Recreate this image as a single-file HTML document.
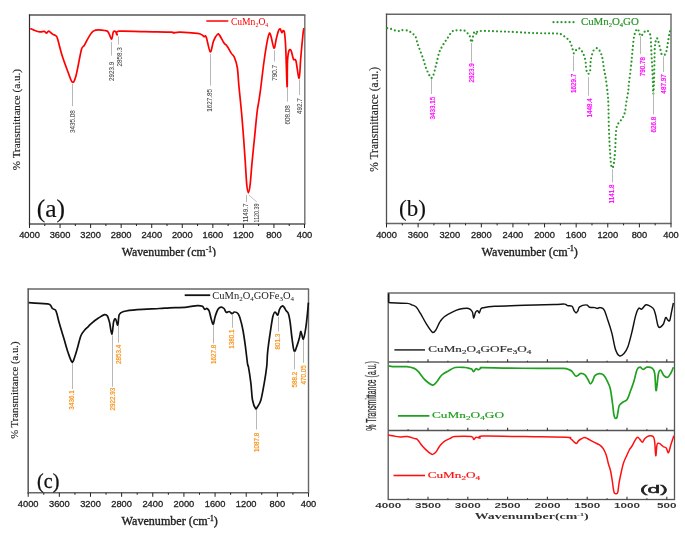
<!DOCTYPE html>
<html><head><meta charset="utf-8"><style>
html,body{margin:0;padding:0;background:#fff;overflow:hidden;width:685px;height:539px;}
svg{display:block;filter:blur(0.4px);}
</style></head><body>
<svg width="685" height="539" viewBox="0 0 685 539">
<rect width="685" height="539" fill="#fff"/>
<line x1="28.9" y1="15.0" x2="305.4" y2="15.0" stroke="#555" stroke-width="1.50"/><line x1="28.9" y1="224.0" x2="305.4" y2="224.0" stroke="#555" stroke-width="1.50"/><line x1="304.8" y1="15.0" x2="304.8" y2="224.0" stroke="#6e6e6e" stroke-width="1.40"/><line x1="29.5" y1="14.4" x2="29.5" y2="224.6" stroke="#303030" stroke-width="1.20"/>
<line x1="29.50" y1="224.0" x2="29.50" y2="228.0" stroke="#222" stroke-width="1"/><line x1="44.78" y1="224.0" x2="44.78" y2="226.0" stroke="#222" stroke-width="1"/><line x1="60.06" y1="224.0" x2="60.06" y2="228.0" stroke="#222" stroke-width="1"/><line x1="75.33" y1="224.0" x2="75.33" y2="226.0" stroke="#222" stroke-width="1"/><line x1="90.61" y1="224.0" x2="90.61" y2="228.0" stroke="#222" stroke-width="1"/><line x1="105.89" y1="224.0" x2="105.89" y2="226.0" stroke="#222" stroke-width="1"/><line x1="121.17" y1="224.0" x2="121.17" y2="228.0" stroke="#222" stroke-width="1"/><line x1="136.44" y1="224.0" x2="136.44" y2="226.0" stroke="#222" stroke-width="1"/><line x1="151.72" y1="224.0" x2="151.72" y2="228.0" stroke="#222" stroke-width="1"/><line x1="167.00" y1="224.0" x2="167.00" y2="226.0" stroke="#222" stroke-width="1"/><line x1="182.28" y1="224.0" x2="182.28" y2="228.0" stroke="#222" stroke-width="1"/><line x1="197.56" y1="224.0" x2="197.56" y2="226.0" stroke="#222" stroke-width="1"/><line x1="212.83" y1="224.0" x2="212.83" y2="228.0" stroke="#222" stroke-width="1"/><line x1="228.11" y1="224.0" x2="228.11" y2="226.0" stroke="#222" stroke-width="1"/><line x1="243.39" y1="224.0" x2="243.39" y2="228.0" stroke="#222" stroke-width="1"/><line x1="258.67" y1="224.0" x2="258.67" y2="226.0" stroke="#222" stroke-width="1"/><line x1="273.94" y1="224.0" x2="273.94" y2="228.0" stroke="#222" stroke-width="1"/><line x1="289.22" y1="224.0" x2="289.22" y2="226.0" stroke="#222" stroke-width="1"/><line x1="304.50" y1="224.0" x2="304.50" y2="228.0" stroke="#222" stroke-width="1"/>
<text x="29.50" y="238.0" font-size="9.3" text-anchor="middle" fill="#222" stroke="#222" stroke-width="0.3" font-family='"Liberation Sans", sans-serif' font-weight="normal">4000</text><text x="60.06" y="238.0" font-size="9.3" text-anchor="middle" fill="#222" stroke="#222" stroke-width="0.3" font-family='"Liberation Sans", sans-serif' font-weight="normal">3600</text><text x="90.61" y="238.0" font-size="9.3" text-anchor="middle" fill="#222" stroke="#222" stroke-width="0.3" font-family='"Liberation Sans", sans-serif' font-weight="normal">3200</text><text x="121.17" y="238.0" font-size="9.3" text-anchor="middle" fill="#222" stroke="#222" stroke-width="0.3" font-family='"Liberation Sans", sans-serif' font-weight="normal">2800</text><text x="151.72" y="238.0" font-size="9.3" text-anchor="middle" fill="#222" stroke="#222" stroke-width="0.3" font-family='"Liberation Sans", sans-serif' font-weight="normal">2400</text><text x="182.28" y="238.0" font-size="9.3" text-anchor="middle" fill="#222" stroke="#222" stroke-width="0.3" font-family='"Liberation Sans", sans-serif' font-weight="normal">2000</text><text x="212.83" y="238.0" font-size="9.3" text-anchor="middle" fill="#222" stroke="#222" stroke-width="0.3" font-family='"Liberation Sans", sans-serif' font-weight="normal">1600</text><text x="243.39" y="238.0" font-size="9.3" text-anchor="middle" fill="#222" stroke="#222" stroke-width="0.3" font-family='"Liberation Sans", sans-serif' font-weight="normal">1200</text><text x="273.94" y="238.0" font-size="9.3" text-anchor="middle" fill="#222" stroke="#222" stroke-width="0.3" font-family='"Liberation Sans", sans-serif' font-weight="normal">800</text><text x="304.50" y="238.0" font-size="9.3" text-anchor="middle" fill="#222" stroke="#222" stroke-width="0.3" font-family='"Liberation Sans", sans-serif' font-weight="normal">400</text>
<path d="M30.2,28.6 C30.8,28.9 32.3,29.6 33.9,30.1 C35.5,30.7 38.1,31.7 39.8,31.9 C41.5,32.1 43.2,31.2 44.3,31.4 C45.4,31.6 45.8,33.1 46.5,33.1 C47.2,33.1 47.7,30.9 48.7,31.1 C49.7,31.3 51.2,33.3 52.5,34.1 C53.8,34.9 55.3,35.1 56.2,36.0 C57.1,36.9 56.7,36.0 57.7,39.3 C58.7,42.6 60.4,50.1 62.1,55.6 C63.8,61.1 66.3,67.5 68.0,72.0 C69.7,76.5 71.1,81.8 72.5,82.3 C73.9,82.8 74.7,80.3 76.2,74.9 C77.7,69.5 80.0,54.7 81.4,49.7 C82.8,44.8 82.4,48.3 84.4,45.2 C86.4,42.1 89.7,33.5 93.3,31.1 C96.9,28.7 103.3,30.3 105.9,30.7 C108.5,31.1 108.0,32.0 108.9,33.4 C109.9,34.8 110.8,39.5 111.6,39.3 C112.3,39.0 112.7,33.2 113.4,31.9 C114.1,30.6 115.0,31.1 115.6,31.6 C116.2,32.1 116.5,34.9 117.1,34.8 C117.7,34.7 114.4,31.7 119.0,31.2 C123.6,30.7 135.8,31.5 144.5,31.6 C153.2,31.8 166.4,31.9 171.2,32.1 C176.0,32.3 171.9,32.9 173.4,32.9 C174.9,32.9 176.0,32.1 180.0,32.2 C184.0,32.3 193.7,33.0 197.3,33.4 C200.9,33.8 200.6,34.3 201.7,34.8 C202.8,35.3 203.2,36.2 203.9,36.6 C204.7,37.0 205.1,34.6 206.2,37.1 C207.3,39.6 209.1,51.3 210.3,51.9 C211.5,52.5 212.4,43.7 213.6,40.8 C214.8,37.9 216.3,35.5 217.3,34.5 C218.3,33.5 218.4,33.7 219.5,35.1 C220.6,36.5 222.8,41.2 224.0,43.0 C225.2,44.8 225.8,44.3 227.0,46.0 C228.2,47.7 230.2,51.5 231.4,53.4 C232.6,55.2 233.3,54.8 234.3,57.1 C235.3,59.5 236.5,62.7 237.3,67.5 C238.1,72.3 238.2,78.6 238.9,86.0 C239.6,93.4 240.7,103.3 241.5,112.0 C242.3,120.7 242.9,129.3 243.6,138.0 C244.2,146.7 244.9,156.2 245.4,164.0 C245.9,171.8 246.3,180.2 246.8,185.0 C247.3,189.8 247.9,192.8 248.4,192.8 C248.9,192.8 249.5,189.8 250.1,185.0 C250.7,180.2 251.2,171.8 251.9,164.0 C252.6,156.2 253.6,146.7 254.5,138.0 C255.4,129.3 256.3,118.5 257.1,112.0 C257.9,105.5 258.6,103.3 259.2,99.0 C259.8,94.7 260.3,91.8 261.0,86.0 C261.7,80.2 262.7,71.3 263.6,64.5 C264.5,57.7 265.6,50.4 266.5,45.2 C267.4,40.1 268.4,35.1 269.2,33.6 C269.9,32.1 270.2,33.9 271.0,36.3 C271.8,38.7 273.1,47.7 274.0,48.2 C274.9,48.7 275.5,42.1 276.2,39.3 C276.9,36.4 277.7,32.8 278.4,31.1 C279.1,29.4 279.6,28.6 280.2,28.9 C280.8,29.1 281.2,32.3 281.7,32.6 C282.2,32.9 282.7,30.6 283.2,30.7 C283.7,30.8 284.2,30.2 284.6,33.4 C285.0,36.6 285.4,40.8 285.8,49.7 C286.2,58.6 286.8,84.7 287.1,86.7 C287.4,88.7 287.2,67.4 287.5,61.5 C287.8,55.6 288.2,53.1 288.8,51.2 C289.4,49.4 290.2,49.0 291.0,50.4 C291.8,51.8 292.7,57.6 293.5,59.3 C294.3,61.0 295.0,57.6 295.9,60.8 C296.8,63.9 298.3,78.6 299.1,78.2 C299.9,77.8 300.1,65.8 300.7,58.6 C301.3,51.4 302.4,39.9 302.9,34.8 C303.4,29.7 303.7,29.3 303.9,28.2" fill="none" stroke="#ff0000" stroke-width="1.7" stroke-linejoin="round"/>
<line x1="72.5" y1="84.0" x2="72.5" y2="106.2" stroke="#b0b0b0" stroke-width="0.9"/><text transform="translate(74.9,121.6) rotate(-90)" font-size="6.3" text-anchor="middle" fill="#444" stroke="#444" stroke-width="0.05" font-family='"Liberation Sans", sans-serif'>3435.08</text>
<line x1="111.5" y1="42.0" x2="111.5" y2="55.6" stroke="#b0b0b0" stroke-width="0.9"/><text transform="translate(113.9,71.3) rotate(-90)" font-size="6.3" text-anchor="middle" fill="#444" stroke="#444" stroke-width="0.05" font-family='"Liberation Sans", sans-serif'>2923.9</text>
<line x1="118.5" y1="36.3" x2="118.5" y2="44.5" stroke="#b0b0b0" stroke-width="0.9"/><text transform="translate(121.6,56.9) rotate(-90)" font-size="6.3" text-anchor="middle" fill="#444" stroke="#444" stroke-width="0.05" font-family='"Liberation Sans", sans-serif'>2858.3</text>
<line x1="210.5" y1="54.0" x2="210.5" y2="85.6" stroke="#b0b0b0" stroke-width="0.9"/><text transform="translate(211.6,100.4) rotate(-90)" font-size="6.3" text-anchor="middle" fill="#444" stroke="#444" stroke-width="0.05" font-family='"Liberation Sans", sans-serif'>1627.85</text>
<line x1="246.5" y1="195.0" x2="246.5" y2="202.3" stroke="#b0b0b0" stroke-width="0.9"/><text transform="translate(248.4,212.9) rotate(-90)" font-size="6.3" text-anchor="middle" fill="#444" stroke="#444" stroke-width="0.05" font-family='"Liberation Sans", sans-serif'>1149.7</text>
<line x1="274.5" y1="50.4" x2="274.5" y2="61.5" stroke="#b0b0b0" stroke-width="0.9"/><text transform="translate(277.0,72.8) rotate(-90)" font-size="6.3" text-anchor="middle" fill="#444" stroke="#444" stroke-width="0.05" font-family='"Liberation Sans", sans-serif'>790.7</text>
<line x1="287.5" y1="88.0" x2="287.5" y2="101.6" stroke="#b0b0b0" stroke-width="0.9"/><text transform="translate(290.1,114.9) rotate(-90)" font-size="6.3" text-anchor="middle" fill="#444" stroke="#444" stroke-width="0.05" font-family='"Liberation Sans", sans-serif'>608.08</text>
<line x1="299.5" y1="79.5" x2="299.5" y2="95.1" stroke="#b0b0b0" stroke-width="0.9"/><text transform="translate(301.8,106.1) rotate(-90)" font-size="6.3" text-anchor="middle" fill="#444" stroke="#444" stroke-width="0.05" font-family='"Liberation Sans", sans-serif'>492.7</text>
<line x1="248.9" y1="195.1" x2="256.7" y2="201.8" stroke="#b0b0b0" stroke-width="0.8"/><text transform="translate(258.9,213.0) rotate(-90)" font-size="6.3" text-anchor="middle" fill="#444" stroke="#444" stroke-width="0.05" font-family='"Liberation Sans", sans-serif' textLength="18.8" lengthAdjust="spacingAndGlyphs">1120.39</text>
<line x1="206.3" y1="21.0" x2="228.3" y2="21.0" stroke="#ff0000" stroke-width="1.5"/>
<text x="230.9" y="24.6" font-size="9.6" fill="#ff0000" font-family='"Liberation Serif", serif'>CuMn<tspan font-size="6" dy="2">2</tspan><tspan dy="-2">O</tspan><tspan font-size="6" dy="2">4</tspan></text>
<text x="36.7" y="216.9" font-size="25.5" fill="#111" stroke="#111" stroke-width="0.15" font-family='"Liberation Serif", serif'>(a)</text>
<text x="121.8" y="256" font-size="11.8" fill="#222" stroke="#222" stroke-width="0.35" font-family='"Liberation Serif", serif'>Wavenumber (cm<tspan font-size="7.5" dy="-4.5">-1</tspan><tspan dy="4.5">)</tspan></text>
<rect x="110" y="256.8" width="120" height="6" fill="#fff"/>
<text transform="translate(19.9,119.6) rotate(-90)" font-size="11.1" text-anchor="middle" fill="#222" stroke="#222" stroke-width="0.15" font-family='"Liberation Serif", serif'>% Transmittance (a.u.)</text>
<line x1="385.9" y1="14.2" x2="671.6" y2="14.2" stroke="#666" stroke-width="1.50"/><line x1="385.9" y1="223.4" x2="671.6" y2="223.4" stroke="#666" stroke-width="1.50"/><line x1="671.0" y1="14.2" x2="671.0" y2="223.4" stroke="#666" stroke-width="1.40"/><line x1="386.5" y1="13.6" x2="386.5" y2="224.0" stroke="#505050" stroke-width="1.30"/>
<line x1="386.50" y1="223.4" x2="386.50" y2="227.4" stroke="#222" stroke-width="1"/><line x1="402.31" y1="223.4" x2="402.31" y2="225.4" stroke="#222" stroke-width="1"/><line x1="418.11" y1="223.4" x2="418.11" y2="227.4" stroke="#222" stroke-width="1"/><line x1="433.92" y1="223.4" x2="433.92" y2="225.4" stroke="#222" stroke-width="1"/><line x1="449.72" y1="223.4" x2="449.72" y2="227.4" stroke="#222" stroke-width="1"/><line x1="465.53" y1="223.4" x2="465.53" y2="225.4" stroke="#222" stroke-width="1"/><line x1="481.33" y1="223.4" x2="481.33" y2="227.4" stroke="#222" stroke-width="1"/><line x1="497.14" y1="223.4" x2="497.14" y2="225.4" stroke="#222" stroke-width="1"/><line x1="512.94" y1="223.4" x2="512.94" y2="227.4" stroke="#222" stroke-width="1"/><line x1="528.75" y1="223.4" x2="528.75" y2="225.4" stroke="#222" stroke-width="1"/><line x1="544.56" y1="223.4" x2="544.56" y2="227.4" stroke="#222" stroke-width="1"/><line x1="560.36" y1="223.4" x2="560.36" y2="225.4" stroke="#222" stroke-width="1"/><line x1="576.17" y1="223.4" x2="576.17" y2="227.4" stroke="#222" stroke-width="1"/><line x1="591.97" y1="223.4" x2="591.97" y2="225.4" stroke="#222" stroke-width="1"/><line x1="607.78" y1="223.4" x2="607.78" y2="227.4" stroke="#222" stroke-width="1"/><line x1="623.58" y1="223.4" x2="623.58" y2="225.4" stroke="#222" stroke-width="1"/><line x1="639.39" y1="223.4" x2="639.39" y2="227.4" stroke="#222" stroke-width="1"/><line x1="655.19" y1="223.4" x2="655.19" y2="225.4" stroke="#222" stroke-width="1"/><line x1="671.00" y1="223.4" x2="671.00" y2="227.4" stroke="#222" stroke-width="1"/>
<text x="386.50" y="237.5" font-size="9.3" text-anchor="middle" fill="#222" stroke="#222" stroke-width="0.3" font-family='"Liberation Sans", sans-serif' font-weight="normal">4000</text><text x="418.11" y="237.5" font-size="9.3" text-anchor="middle" fill="#222" stroke="#222" stroke-width="0.3" font-family='"Liberation Sans", sans-serif' font-weight="normal">3600</text><text x="449.72" y="237.5" font-size="9.3" text-anchor="middle" fill="#222" stroke="#222" stroke-width="0.3" font-family='"Liberation Sans", sans-serif' font-weight="normal">3200</text><text x="481.33" y="237.5" font-size="9.3" text-anchor="middle" fill="#222" stroke="#222" stroke-width="0.3" font-family='"Liberation Sans", sans-serif' font-weight="normal">2800</text><text x="512.94" y="237.5" font-size="9.3" text-anchor="middle" fill="#222" stroke="#222" stroke-width="0.3" font-family='"Liberation Sans", sans-serif' font-weight="normal">2400</text><text x="544.56" y="237.5" font-size="9.3" text-anchor="middle" fill="#222" stroke="#222" stroke-width="0.3" font-family='"Liberation Sans", sans-serif' font-weight="normal">2000</text><text x="576.17" y="237.5" font-size="9.3" text-anchor="middle" fill="#222" stroke="#222" stroke-width="0.3" font-family='"Liberation Sans", sans-serif' font-weight="normal">1600</text><text x="607.78" y="237.5" font-size="9.3" text-anchor="middle" fill="#222" stroke="#222" stroke-width="0.3" font-family='"Liberation Sans", sans-serif' font-weight="normal">1200</text><text x="639.39" y="237.5" font-size="9.3" text-anchor="middle" fill="#222" stroke="#222" stroke-width="0.3" font-family='"Liberation Sans", sans-serif' font-weight="normal">800</text><text x="671.00" y="237.5" font-size="9.3" text-anchor="middle" fill="#222" stroke="#222" stroke-width="0.3" font-family='"Liberation Sans", sans-serif' font-weight="normal">400</text>
<path d="M387.2,28.2 C387.8,28.3 389.7,28.5 390.9,28.9 C392.1,29.3 393.4,30.0 394.6,30.4 C395.9,30.8 397.3,31.2 398.4,31.1 C399.5,31.1 399.7,30.2 401.3,30.1 C402.9,30.0 406.3,30.2 408.0,30.7 C409.7,31.2 410.5,32.2 411.7,33.1 C412.9,34.0 414.4,34.5 415.4,36.3 C416.4,38.1 416.7,41.1 417.6,43.7 C418.5,46.3 419.6,49.2 420.6,51.9 C421.6,54.6 422.7,57.5 423.6,60.1 C424.5,62.7 424.9,65.2 425.8,67.5 C426.7,69.8 427.9,72.5 428.8,74.2 C429.7,75.9 430.3,77.7 431.0,77.9 C431.7,78.1 432.3,77.8 433.2,75.6 C434.1,73.4 435.2,68.3 436.2,64.5 C437.2,60.7 438.1,55.8 439.2,52.6 C440.3,49.4 441.5,47.6 442.9,45.2 C444.2,42.9 445.8,40.7 447.3,38.5 C448.8,36.3 450.3,33.2 451.8,31.9 C453.3,30.5 454.1,30.6 456.2,30.4 C458.3,30.2 462.6,30.2 464.5,30.7 C466.4,31.1 466.5,32.3 467.4,33.1 C468.2,33.9 468.9,34.1 469.6,35.6 C470.3,37.1 471.0,42.4 471.6,42.3 C472.2,42.2 472.9,36.6 473.4,34.8 C473.9,33.0 474.2,31.7 474.8,31.6 C475.4,31.6 476.4,34.6 477.1,34.5 C477.9,34.4 474.7,31.6 479.3,31.1 C483.9,30.6 495.2,31.3 504.5,31.6 C513.8,31.9 526.2,32.8 535.0,33.1 C543.8,33.4 552.8,33.3 557.3,33.6 C561.8,33.9 560.2,34.1 561.7,34.8 C563.2,35.5 564.8,36.7 566.2,37.8 C567.6,38.9 568.9,39.9 569.9,41.5 C570.9,43.1 571.4,45.4 572.1,47.4 C572.8,49.4 573.2,53.0 573.9,53.4 C574.6,53.8 575.6,50.5 576.5,49.7 C577.4,48.9 578.5,48.1 579.5,48.5 C580.5,48.9 581.7,50.9 582.5,52.3 C583.3,53.7 584.0,55.4 584.5,57.0 C585.0,58.6 585.4,60.3 585.6,62.0 C585.9,63.7 585.8,65.4 586.0,67.0 C586.2,68.6 586.4,70.4 586.8,71.5 C587.2,72.6 587.9,73.8 588.4,73.8 C588.9,73.8 589.7,72.6 590.0,71.5 C590.3,70.4 590.2,68.6 590.3,67.0 C590.4,65.4 590.4,63.7 590.6,62.0 C590.8,60.3 590.9,58.9 591.4,57.0 C591.9,55.1 592.6,51.9 593.6,50.4 C594.6,48.9 596.2,48.0 597.3,48.2 C598.4,48.5 599.4,50.2 600.3,51.9 C601.2,53.6 601.9,55.8 602.5,58.6 C603.1,61.5 603.4,65.5 604.0,69.0 C604.6,72.5 605.3,75.1 605.9,79.3 C606.5,83.5 607.3,89.9 607.7,94.2 C608.1,98.5 608.2,98.9 608.4,105.0 C608.6,111.1 608.7,123.1 609.0,130.8 C609.3,138.5 609.6,145.2 610.0,151.2 C610.4,157.1 610.8,164.1 611.4,166.5 C612.0,168.9 612.9,168.1 613.5,165.5 C614.1,162.9 614.7,157.0 615.1,151.2 C615.5,145.4 615.6,135.4 616.1,130.8 C616.6,126.2 617.2,125.7 618.2,123.7 C619.2,121.7 621.1,120.5 622.2,118.6 C623.3,116.7 624.2,115.1 624.9,112.4 C625.6,109.7 625.7,105.9 626.3,102.2 C626.9,98.5 628.0,93.1 628.4,90.0 C628.8,86.9 628.4,88.0 628.9,83.8 C629.4,79.5 630.6,70.2 631.2,64.5 C631.8,58.8 632.1,54.4 632.6,49.7 C633.1,45.0 633.4,39.8 634.1,36.3 C634.9,32.8 636.2,29.5 637.1,28.9 C638.0,28.3 638.8,31.4 639.3,32.6 C639.8,33.8 639.8,35.8 640.4,36.0 C641.0,36.2 642.1,35.0 643.0,34.1 C643.9,33.2 644.7,31.1 645.6,30.6 C646.5,30.1 647.6,30.7 648.3,31.3 C649.0,31.9 649.6,32.7 650.0,34.0 C650.4,35.3 650.6,35.8 650.8,38.9 C651.0,42.0 651.2,48.2 651.4,52.8 C651.6,57.4 652.0,62.1 652.2,66.7 C652.4,71.3 652.6,76.1 652.8,80.6 C653.0,85.1 653.1,93.1 653.3,93.8 C653.5,94.5 653.8,88.3 653.9,85.0 C654.0,81.7 654.1,77.9 654.2,73.7 C654.3,69.5 654.4,64.1 654.5,59.8 C654.6,55.5 654.6,51.0 654.8,48.0 C655.0,45.0 655.3,43.3 655.6,41.7 C655.9,40.1 656.3,38.6 656.7,38.2 C657.1,37.9 657.4,38.8 657.8,39.6 C658.1,40.4 658.4,41.6 658.8,43.1 C659.2,44.6 659.7,46.8 660.2,48.6 C660.7,50.5 661.0,53.1 661.6,54.2 C662.2,55.3 663.0,55.0 663.6,55.0 C664.2,55.0 664.8,55.0 665.3,54.2 C665.8,53.4 666.3,51.9 666.7,50.0 C667.1,48.1 667.5,45.0 667.8,43.1 C668.1,41.2 668.3,40.3 668.5,38.9 C668.7,37.5 669.0,36.0 669.2,34.7 C669.4,33.4 669.8,31.9 669.9,31.3" fill="none" stroke="#2a962a" stroke-width="2.2" stroke-dasharray="0 4.0" stroke-linecap="round"/>
<line x1="431.5" y1="79.0" x2="431.5" y2="94.0" stroke="#b0b0b0" stroke-width="0.9"/><text transform="translate(435.1,108.2) rotate(-90)" font-size="6.3" text-anchor="middle" fill="#ff00ff" stroke="#ff00ff" stroke-width="0.20" font-family='"Liberation Sans", sans-serif'>3433.15</text>
<line x1="471.5" y1="43.0" x2="471.5" y2="62.3" stroke="#b0b0b0" stroke-width="0.9"/><text transform="translate(474.2,72.9) rotate(-90)" font-size="6.3" text-anchor="middle" fill="#ff00ff" stroke="#ff00ff" stroke-width="0.20" font-family='"Liberation Sans", sans-serif'>2923.9</text>
<line x1="573.5" y1="55.6" x2="573.5" y2="71.2" stroke="#b0b0b0" stroke-width="0.9"/><text transform="translate(576.2,83.3) rotate(-90)" font-size="6.3" text-anchor="middle" fill="#ff00ff" stroke="#ff00ff" stroke-width="0.20" font-family='"Liberation Sans", sans-serif'>1629.7</text>
<line x1="588.5" y1="77.1" x2="588.5" y2="95.7" stroke="#b0b0b0" stroke-width="0.9"/><text transform="translate(591.5,107.9) rotate(-90)" font-size="6.3" text-anchor="middle" fill="#ff00ff" stroke="#ff00ff" stroke-width="0.20" font-family='"Liberation Sans", sans-serif'>1448.4</text>
<line x1="612.5" y1="169.2" x2="612.5" y2="182.4" stroke="#b0b0b0" stroke-width="0.9"/><text transform="translate(614.4,194.0) rotate(-90)" font-size="6.3" text-anchor="middle" fill="#ff00ff" stroke="#ff00ff" stroke-width="0.20" font-family='"Liberation Sans", sans-serif'>1141.8</text>
<line x1="640.5" y1="36.3" x2="640.5" y2="54.1" stroke="#b0b0b0" stroke-width="0.9"/><text transform="translate(644.6,66.6) rotate(-90)" font-size="6.3" text-anchor="middle" fill="#ff00ff" stroke="#ff00ff" stroke-width="0.20" font-family='"Liberation Sans", sans-serif'>790.78</text>
<line x1="653.5" y1="93.0" x2="653.5" y2="114.5" stroke="#b0b0b0" stroke-width="0.9"/><text transform="translate(656.1,124.7) rotate(-90)" font-size="6.3" text-anchor="middle" fill="#ff00ff" stroke="#ff00ff" stroke-width="0.20" font-family='"Liberation Sans", sans-serif'>626.8</text>
<line x1="663.5" y1="56.4" x2="663.5" y2="71.9" stroke="#b0b0b0" stroke-width="0.9"/><text transform="translate(666.1,84.0) rotate(-90)" font-size="6.3" text-anchor="middle" fill="#ff00ff" stroke="#ff00ff" stroke-width="0.20" font-family='"Liberation Sans", sans-serif'>487.97</text>
<line x1="553.5" y1="22.2" x2="577.3" y2="22.2" stroke="#2a962a" stroke-width="2.2" stroke-dasharray="0 4.0" stroke-linecap="round"/>
<text x="580.9" y="25.4" font-size="10.9" fill="#2a962a" stroke="#2a962a" stroke-width="0.2" font-family='"Liberation Serif", serif'>CuMn<tspan font-size="6.5" dy="2">2</tspan><tspan dy="-2">O</tspan><tspan font-size="6.5" dy="2">4</tspan><tspan dy="-2">GO</tspan></text>
<text x="399.0" y="215.5" font-size="23" fill="#111" stroke="#111" stroke-width="0.12" font-family='"Liberation Serif", serif'>(b)</text>
<text x="481.6" y="255.9" font-size="12.1" fill="#222" stroke="#222" stroke-width="0.35" font-family='"Liberation Serif", serif'>Wavenumber (cm<tspan font-size="7.5" dy="-4.5">-1</tspan><tspan dy="4.5">)</tspan></text>
<text transform="translate(378,119.4) rotate(-90)" font-size="11.5" text-anchor="middle" fill="#222" stroke="#222" stroke-width="0.15" font-family='"Liberation Serif", serif'>% Transmittance (a.u.)</text>
<line x1="27.6" y1="289.0" x2="309.1" y2="289.0" stroke="#666" stroke-width="1.50"/><line x1="27.6" y1="492.8" x2="309.1" y2="492.8" stroke="#666" stroke-width="1.50"/><line x1="308.5" y1="289.0" x2="308.5" y2="492.8" stroke="#666" stroke-width="1.40"/><line x1="28.2" y1="288.4" x2="28.2" y2="493.4" stroke="#606060" stroke-width="1.60"/>
<line x1="28.20" y1="492.8" x2="28.20" y2="496.8" stroke="#222" stroke-width="1"/><line x1="43.77" y1="492.8" x2="43.77" y2="494.8" stroke="#222" stroke-width="1"/><line x1="59.34" y1="492.8" x2="59.34" y2="496.8" stroke="#222" stroke-width="1"/><line x1="74.92" y1="492.8" x2="74.92" y2="494.8" stroke="#222" stroke-width="1"/><line x1="90.49" y1="492.8" x2="90.49" y2="496.8" stroke="#222" stroke-width="1"/><line x1="106.06" y1="492.8" x2="106.06" y2="494.8" stroke="#222" stroke-width="1"/><line x1="121.63" y1="492.8" x2="121.63" y2="496.8" stroke="#222" stroke-width="1"/><line x1="137.21" y1="492.8" x2="137.21" y2="494.8" stroke="#222" stroke-width="1"/><line x1="152.78" y1="492.8" x2="152.78" y2="496.8" stroke="#222" stroke-width="1"/><line x1="168.35" y1="492.8" x2="168.35" y2="494.8" stroke="#222" stroke-width="1"/><line x1="183.92" y1="492.8" x2="183.92" y2="496.8" stroke="#222" stroke-width="1"/><line x1="199.49" y1="492.8" x2="199.49" y2="494.8" stroke="#222" stroke-width="1"/><line x1="215.07" y1="492.8" x2="215.07" y2="496.8" stroke="#222" stroke-width="1"/><line x1="230.64" y1="492.8" x2="230.64" y2="494.8" stroke="#222" stroke-width="1"/><line x1="246.21" y1="492.8" x2="246.21" y2="496.8" stroke="#222" stroke-width="1"/><line x1="261.78" y1="492.8" x2="261.78" y2="494.8" stroke="#222" stroke-width="1"/><line x1="277.36" y1="492.8" x2="277.36" y2="496.8" stroke="#222" stroke-width="1"/><line x1="292.93" y1="492.8" x2="292.93" y2="494.8" stroke="#222" stroke-width="1"/><line x1="308.50" y1="492.8" x2="308.50" y2="496.8" stroke="#222" stroke-width="1"/>
<text x="28.20" y="507.0" font-size="9.3" text-anchor="middle" fill="#222" stroke="#222" stroke-width="0.3" font-family='"Liberation Sans", sans-serif' font-weight="normal">4000</text><text x="59.34" y="507.0" font-size="9.3" text-anchor="middle" fill="#222" stroke="#222" stroke-width="0.3" font-family='"Liberation Sans", sans-serif' font-weight="normal">3600</text><text x="90.49" y="507.0" font-size="9.3" text-anchor="middle" fill="#222" stroke="#222" stroke-width="0.3" font-family='"Liberation Sans", sans-serif' font-weight="normal">3200</text><text x="121.63" y="507.0" font-size="9.3" text-anchor="middle" fill="#222" stroke="#222" stroke-width="0.3" font-family='"Liberation Sans", sans-serif' font-weight="normal">2800</text><text x="152.78" y="507.0" font-size="9.3" text-anchor="middle" fill="#222" stroke="#222" stroke-width="0.3" font-family='"Liberation Sans", sans-serif' font-weight="normal">2400</text><text x="183.92" y="507.0" font-size="9.3" text-anchor="middle" fill="#222" stroke="#222" stroke-width="0.3" font-family='"Liberation Sans", sans-serif' font-weight="normal">2000</text><text x="215.07" y="507.0" font-size="9.3" text-anchor="middle" fill="#222" stroke="#222" stroke-width="0.3" font-family='"Liberation Sans", sans-serif' font-weight="normal">1600</text><text x="246.21" y="507.0" font-size="9.3" text-anchor="middle" fill="#222" stroke="#222" stroke-width="0.3" font-family='"Liberation Sans", sans-serif' font-weight="normal">1200</text><text x="277.36" y="507.0" font-size="9.3" text-anchor="middle" fill="#222" stroke="#222" stroke-width="0.3" font-family='"Liberation Sans", sans-serif' font-weight="normal">800</text><text x="308.50" y="507.0" font-size="9.3" text-anchor="middle" fill="#222" stroke="#222" stroke-width="0.3" font-family='"Liberation Sans", sans-serif' font-weight="normal">400</text>
<path d="M28.7,302.6 C30.5,302.7 36.7,303.2 39.8,303.4 C42.9,303.6 45.6,303.6 47.3,303.8 C49.0,304.0 49.4,304.0 50.2,304.8 C51.1,305.6 51.5,307.6 52.4,308.5 C53.3,309.4 54.6,309.1 55.4,310.0 C56.1,310.9 56.3,311.6 56.9,313.7 C57.5,315.8 58.0,318.6 59.1,322.6 C60.2,326.6 62.1,332.6 63.6,337.5 C65.1,342.4 66.6,348.2 68.0,352.3 C69.4,356.4 70.9,361.2 72.0,362.0 C73.1,362.8 73.8,359.4 74.7,357.0 C75.6,354.6 76.5,351.4 77.5,347.8 C78.5,344.2 79.8,338.4 81.0,335.5 C82.2,332.6 83.3,331.8 84.5,330.3 C85.7,328.9 86.8,328.0 88.0,326.8 C89.2,325.6 89.8,324.8 91.5,323.3 C93.2,321.8 96.3,319.4 98.5,318.0 C100.7,316.6 103.0,314.9 104.5,314.6 C106.0,314.3 106.6,314.7 107.4,316.0 C108.2,317.3 108.8,319.5 109.6,322.6 C110.3,325.7 111.2,334.6 111.9,334.5 C112.6,334.4 113.0,324.5 113.6,321.9 C114.2,319.3 114.9,318.3 115.6,318.9 C116.3,319.4 117.2,325.9 117.8,325.2 C118.4,324.5 118.3,316.8 119.3,314.5 C120.3,312.2 120.7,312.3 123.7,311.5 C126.7,310.7 131.2,310.1 137.1,309.6 C143.0,309.1 153.9,308.8 159.3,308.5 C164.7,308.2 165.1,308.0 169.7,307.8 C174.3,307.6 182.3,307.5 186.9,307.1 C191.5,306.7 194.7,305.7 197.3,305.6 C199.9,305.5 201.2,305.7 202.4,306.3 C203.6,306.9 203.9,308.9 204.7,309.3 C205.4,309.7 206.2,308.2 206.9,308.5 C207.6,308.8 208.3,308.9 209.1,310.8 C209.8,312.7 210.7,317.5 211.4,319.7 C212.1,321.9 212.7,324.7 213.3,324.2 C213.9,323.7 214.3,319.2 215.1,316.7 C215.9,314.2 217.0,310.9 218.0,309.3 C219.0,307.7 220.0,307.2 221.0,307.1 C222.0,307.0 223.1,307.6 224.0,308.5 C224.9,309.4 225.3,311.8 226.2,312.3 C227.1,312.8 228.2,311.3 229.2,311.5 C230.2,311.7 231.2,313.6 232.1,313.7 C232.9,313.8 233.3,312.0 234.3,312.0 C235.3,312.0 237.0,312.2 238.1,313.7 C239.2,315.2 240.1,318.2 240.9,321.2 C241.8,324.2 242.4,327.3 243.2,331.5 C243.9,335.7 244.7,340.9 245.4,346.4 C246.1,351.8 247.1,360.8 247.6,364.2 C248.1,367.6 247.8,363.5 248.4,366.7 C249.0,369.9 250.2,377.8 250.9,383.4 C251.6,388.9 251.7,395.8 252.5,400.0 C253.3,404.2 254.8,407.5 255.6,408.6 C256.4,409.7 256.6,408.2 257.5,406.8 C258.4,405.4 259.8,403.9 260.9,400.0 C262.0,396.1 263.2,388.9 264.2,383.4 C265.2,377.8 266.1,371.9 266.7,366.7 C267.3,361.5 267.0,358.4 267.6,352.3 C268.2,346.2 269.7,336.0 270.6,330.1 C271.5,324.2 272.1,319.7 272.8,316.7 C273.6,313.7 274.3,312.2 275.1,312.0 C275.9,311.8 277.0,315.6 277.7,315.2 C278.4,314.8 278.8,310.8 279.5,309.3 C280.2,307.8 281.4,306.4 282.2,306.0 C282.9,305.6 283.3,306.3 284.0,307.1 C284.7,307.9 285.5,309.7 286.2,310.8 C286.9,311.9 287.7,311.7 288.4,313.7 C289.1,315.7 289.6,318.4 290.2,322.6 C290.8,326.8 291.4,334.2 292.1,339.0 C292.8,343.8 293.4,350.2 294.3,351.2 C295.2,352.2 296.4,347.2 297.3,344.9 C298.2,342.6 298.9,339.7 299.5,337.5 C300.1,335.3 300.4,331.2 301.0,331.5 C301.6,331.8 302.5,339.7 303.3,339.0 C304.1,338.3 305.2,331.8 305.9,327.1 C306.6,322.4 307.3,314.9 307.7,310.8 C308.1,306.7 308.3,304.0 308.4,302.6" fill="none" stroke="#111" stroke-width="1.7" stroke-linejoin="round"/>
<line x1="72.5" y1="363.0" x2="72.5" y2="389.0" stroke="#b0b0b0" stroke-width="0.9"/><text transform="translate(73.8,400.0) rotate(-90)" font-size="6.3" text-anchor="middle" fill="#f7941d" stroke="#f7941d" stroke-width="0.20" font-family='"Liberation Sans", sans-serif'>3436.1</text>
<line x1="112.5" y1="335.5" x2="112.5" y2="386.7" stroke="#b0b0b0" stroke-width="0.9"/><text transform="translate(114.6,399.2) rotate(-90)" font-size="6.3" text-anchor="middle" fill="#f7941d" stroke="#f7941d" stroke-width="0.20" font-family='"Liberation Sans", sans-serif'>2922.93</text>
<line x1="118.5" y1="325.6" x2="118.5" y2="342.7" stroke="#b0b0b0" stroke-width="0.9"/><text transform="translate(121.3,354.4) rotate(-90)" font-size="6.3" text-anchor="middle" fill="#f7941d" stroke="#f7941d" stroke-width="0.20" font-family='"Liberation Sans", sans-serif'>2853.4</text>
<line x1="213.5" y1="324.9" x2="213.5" y2="343.4" stroke="#b0b0b0" stroke-width="0.9"/><text transform="translate(215.6,354.4) rotate(-90)" font-size="6.3" text-anchor="middle" fill="#f7941d" stroke="#f7941d" stroke-width="0.20" font-family='"Liberation Sans", sans-serif'>1627.8</text>
<line x1="232.5" y1="314.5" x2="232.5" y2="327.8" stroke="#b0b0b0" stroke-width="0.9"/><text transform="translate(234.4,339.1) rotate(-90)" font-size="6.3" text-anchor="middle" fill="#f7941d" stroke="#f7941d" stroke-width="0.20" font-family='"Liberation Sans", sans-serif'>1380.1</text>
<line x1="256.5" y1="410.0" x2="256.5" y2="429.5" stroke="#b0b0b0" stroke-width="0.9"/><text transform="translate(258.5,442.3) rotate(-90)" font-size="6.3" text-anchor="middle" fill="#f7941d" stroke="#f7941d" stroke-width="0.20" font-family='"Liberation Sans", sans-serif'>1087.8</text>
<line x1="278.5" y1="316.7" x2="278.5" y2="331.5" stroke="#b0b0b0" stroke-width="0.9"/><text transform="translate(280.3,341.7) rotate(-90)" font-size="6.3" text-anchor="middle" fill="#f7941d" stroke="#f7941d" stroke-width="0.20" font-family='"Liberation Sans", sans-serif'>801.3</text>
<line x1="294.5" y1="351.7" x2="294.5" y2="369.4" stroke="#b0b0b0" stroke-width="0.9"/><text transform="translate(296.6,379.6) rotate(-90)" font-size="6.3" text-anchor="middle" fill="#f7941d" stroke="#f7941d" stroke-width="0.20" font-family='"Liberation Sans", sans-serif'>588.2</text>
<line x1="303.5" y1="340.0" x2="303.5" y2="362.9" stroke="#b0b0b0" stroke-width="0.9"/><text transform="translate(305.7,374.9) rotate(-90)" font-size="6.3" text-anchor="middle" fill="#f7941d" stroke="#f7941d" stroke-width="0.20" font-family='"Liberation Sans", sans-serif'>470.05</text>
<line x1="184.7" y1="295.2" x2="210.2" y2="295.2" stroke="#111" stroke-width="1.8"/>
<text x="212.3" y="298.7" font-size="10.5" fill="#222" font-family='"Liberation Serif", serif'>CuMn<tspan font-size="7" dy="2">2</tspan><tspan dy="-2">O</tspan><tspan font-size="7" dy="2">4</tspan><tspan dy="-2">GOFe</tspan><tspan font-size="7" dy="2">3</tspan><tspan dy="-2">O</tspan><tspan font-size="7" dy="2">4</tspan></text>
<text x="37.1" y="487.9" font-size="20" fill="#111" stroke="#111" stroke-width="0.3" font-family='"Liberation Serif", serif'>(c)</text>
<text x="121.6" y="525.4" font-size="12.1" fill="#222" stroke="#222" stroke-width="0.35" font-family='"Liberation Serif", serif'>Wavenumber (cm<tspan font-size="7.5" dy="-4.5">-1</tspan><tspan dy="4.5">)</tspan></text>
<text transform="translate(18.0,390.1) rotate(-90)" font-size="10.7" text-anchor="middle" fill="#222" stroke="#222" stroke-width="0.15" font-family='"Liberation Serif", serif'>% Transmittance (a.u.)</text>
<rect x="388.2" y="293.0" width="286.3" height="206.5" fill="none" stroke="#555" stroke-width="1.3"/>
<line x1="388.2" y1="362.0" x2="674.5" y2="362.0" stroke="#555" stroke-width="1.3"/>
<line x1="388.2" y1="430.5" x2="674.5" y2="430.5" stroke="#555" stroke-width="1.3"/>
<line x1="408.10" y1="362.0" x2="408.10" y2="360.7" stroke="#333" stroke-width="1.1"/>
<line x1="428.00" y1="362.0" x2="428.00" y2="359.2" stroke="#333" stroke-width="1.1"/>
<line x1="447.90" y1="362.0" x2="447.90" y2="360.7" stroke="#333" stroke-width="1.1"/>
<line x1="467.80" y1="362.0" x2="467.80" y2="359.2" stroke="#333" stroke-width="1.1"/>
<line x1="487.70" y1="362.0" x2="487.70" y2="360.7" stroke="#333" stroke-width="1.1"/>
<line x1="507.60" y1="362.0" x2="507.60" y2="359.2" stroke="#333" stroke-width="1.1"/>
<line x1="527.50" y1="362.0" x2="527.50" y2="360.7" stroke="#333" stroke-width="1.1"/>
<line x1="547.40" y1="362.0" x2="547.40" y2="359.2" stroke="#333" stroke-width="1.1"/>
<line x1="567.30" y1="362.0" x2="567.30" y2="360.7" stroke="#333" stroke-width="1.1"/>
<line x1="587.20" y1="362.0" x2="587.20" y2="359.2" stroke="#333" stroke-width="1.1"/>
<line x1="607.10" y1="362.0" x2="607.10" y2="360.7" stroke="#333" stroke-width="1.1"/>
<line x1="627.00" y1="362.0" x2="627.00" y2="359.2" stroke="#333" stroke-width="1.1"/>
<line x1="646.90" y1="362.0" x2="646.90" y2="360.7" stroke="#333" stroke-width="1.1"/>
<line x1="666.80" y1="362.0" x2="666.80" y2="359.2" stroke="#333" stroke-width="1.1"/>
<line x1="408.10" y1="430.5" x2="408.10" y2="429.2" stroke="#333" stroke-width="1.1"/>
<line x1="428.00" y1="430.5" x2="428.00" y2="427.7" stroke="#333" stroke-width="1.1"/>
<line x1="447.90" y1="430.5" x2="447.90" y2="429.2" stroke="#333" stroke-width="1.1"/>
<line x1="467.80" y1="430.5" x2="467.80" y2="427.7" stroke="#333" stroke-width="1.1"/>
<line x1="487.70" y1="430.5" x2="487.70" y2="429.2" stroke="#333" stroke-width="1.1"/>
<line x1="507.60" y1="430.5" x2="507.60" y2="427.7" stroke="#333" stroke-width="1.1"/>
<line x1="527.50" y1="430.5" x2="527.50" y2="429.2" stroke="#333" stroke-width="1.1"/>
<line x1="547.40" y1="430.5" x2="547.40" y2="427.7" stroke="#333" stroke-width="1.1"/>
<line x1="567.30" y1="430.5" x2="567.30" y2="429.2" stroke="#333" stroke-width="1.1"/>
<line x1="587.20" y1="430.5" x2="587.20" y2="427.7" stroke="#333" stroke-width="1.1"/>
<line x1="607.10" y1="430.5" x2="607.10" y2="429.2" stroke="#333" stroke-width="1.1"/>
<line x1="627.00" y1="430.5" x2="627.00" y2="427.7" stroke="#333" stroke-width="1.1"/>
<line x1="646.90" y1="430.5" x2="646.90" y2="429.2" stroke="#333" stroke-width="1.1"/>
<line x1="666.80" y1="430.5" x2="666.80" y2="427.7" stroke="#333" stroke-width="1.1"/>
<line x1="408.10" y1="499.5" x2="408.10" y2="498.2" stroke="#333" stroke-width="1.1"/>
<line x1="428.00" y1="499.5" x2="428.00" y2="496.7" stroke="#333" stroke-width="1.1"/>
<line x1="447.90" y1="499.5" x2="447.90" y2="498.2" stroke="#333" stroke-width="1.1"/>
<line x1="467.80" y1="499.5" x2="467.80" y2="496.7" stroke="#333" stroke-width="1.1"/>
<line x1="487.70" y1="499.5" x2="487.70" y2="498.2" stroke="#333" stroke-width="1.1"/>
<line x1="507.60" y1="499.5" x2="507.60" y2="496.7" stroke="#333" stroke-width="1.1"/>
<line x1="527.50" y1="499.5" x2="527.50" y2="498.2" stroke="#333" stroke-width="1.1"/>
<line x1="547.40" y1="499.5" x2="547.40" y2="496.7" stroke="#333" stroke-width="1.1"/>
<line x1="567.30" y1="499.5" x2="567.30" y2="498.2" stroke="#333" stroke-width="1.1"/>
<line x1="587.20" y1="499.5" x2="587.20" y2="496.7" stroke="#333" stroke-width="1.1"/>
<line x1="607.10" y1="499.5" x2="607.10" y2="498.2" stroke="#333" stroke-width="1.1"/>
<line x1="627.00" y1="499.5" x2="627.00" y2="496.7" stroke="#333" stroke-width="1.1"/>
<line x1="646.90" y1="499.5" x2="646.90" y2="498.2" stroke="#333" stroke-width="1.1"/>
<line x1="666.80" y1="499.5" x2="666.80" y2="496.7" stroke="#333" stroke-width="1.1"/>
<text x="388.20" y="507.6" font-size="7" font-weight="bold" text-anchor="middle" fill="#333" font-family='"Liberation Sans", sans-serif' textLength="26.0" lengthAdjust="spacingAndGlyphs">4000</text>
<text x="428.00" y="507.6" font-size="7" font-weight="bold" text-anchor="middle" fill="#333" font-family='"Liberation Sans", sans-serif' textLength="26.0" lengthAdjust="spacingAndGlyphs">3500</text>
<text x="467.80" y="507.6" font-size="7" font-weight="bold" text-anchor="middle" fill="#333" font-family='"Liberation Sans", sans-serif' textLength="26.0" lengthAdjust="spacingAndGlyphs">3000</text>
<text x="507.60" y="507.6" font-size="7" font-weight="bold" text-anchor="middle" fill="#333" font-family='"Liberation Sans", sans-serif' textLength="26.0" lengthAdjust="spacingAndGlyphs">2500</text>
<text x="547.40" y="507.6" font-size="7" font-weight="bold" text-anchor="middle" fill="#333" font-family='"Liberation Sans", sans-serif' textLength="26.0" lengthAdjust="spacingAndGlyphs">2000</text>
<text x="587.20" y="507.6" font-size="7" font-weight="bold" text-anchor="middle" fill="#333" font-family='"Liberation Sans", sans-serif' textLength="26.0" lengthAdjust="spacingAndGlyphs">1500</text>
<text x="627.00" y="507.6" font-size="7" font-weight="bold" text-anchor="middle" fill="#333" font-family='"Liberation Sans", sans-serif' textLength="26.0" lengthAdjust="spacingAndGlyphs">1000</text>
<text x="666.80" y="507.6" font-size="7" font-weight="bold" text-anchor="middle" fill="#333" font-family='"Liberation Sans", sans-serif' textLength="19.5" lengthAdjust="spacingAndGlyphs">500</text>
<path d="M388.7,302.6 C391.8,302.7 403.5,303.0 407.3,303.4 C411.1,303.8 410.2,304.2 411.7,304.8 C413.2,305.4 414.7,305.6 416.2,307.1 C417.7,308.6 418.9,310.9 420.6,313.7 C422.3,316.5 424.5,321.0 426.5,324.1 C428.5,327.2 430.9,331.4 432.5,332.3 C434.1,333.2 435.0,331.0 436.2,329.3 C437.4,327.6 438.5,324.0 439.9,321.9 C441.2,319.8 442.3,318.3 444.3,316.7 C446.3,315.1 449.3,313.5 451.8,312.3 C454.3,311.1 456.7,310.0 459.2,309.3 C461.7,308.6 464.8,308.2 466.6,308.2 C468.5,308.2 469.3,308.6 470.3,309.3 C471.3,310.0 471.9,310.8 472.5,312.3 C473.1,313.8 473.2,318.2 473.7,318.2 C474.2,318.2 474.8,313.5 475.5,312.3 C476.2,311.1 477.1,310.7 477.7,310.8 C478.3,310.9 478.7,313.2 479.2,313.0 C479.7,312.8 480.1,310.2 480.7,309.3 C481.3,308.4 480.6,308.3 483.0,307.8 C485.4,307.3 487.9,306.7 494.8,306.3 C501.7,305.9 514.6,305.6 524.5,305.3 C534.4,305.0 547.5,304.7 554.2,304.5 C560.9,304.3 562.4,303.9 564.6,304.1 C566.8,304.3 566.3,305.2 567.5,305.6 C568.7,306.0 570.9,305.4 572.0,306.3 C573.1,307.2 573.5,309.7 574.2,310.8 C574.9,311.9 575.5,313.0 576.1,313.0 C576.7,313.0 577.3,311.8 577.9,310.8 C578.5,309.8 578.2,307.9 579.6,306.9 C581.0,305.9 584.8,304.8 586.5,304.9 C588.2,304.9 588.2,306.8 589.6,307.2 C591.0,307.6 593.6,307.4 594.9,307.6 C596.2,307.8 596.3,308.4 597.2,308.4 C598.1,308.4 599.1,307.4 600.3,307.6 C601.4,307.9 602.8,307.7 604.1,309.9 C605.4,312.1 606.7,316.9 608.0,320.7 C609.3,324.5 610.5,328.0 611.8,332.9 C613.1,337.8 614.3,346.0 615.6,349.8 C616.9,353.6 618.1,355.3 619.5,355.9 C620.9,356.5 622.6,355.1 624.0,353.6 C625.4,352.1 626.6,350.1 627.9,346.7 C629.2,343.2 630.4,338.0 631.7,332.9 C633.0,327.8 634.4,320.2 635.5,316.1 C636.6,312.0 637.6,309.5 638.6,308.4 C639.6,307.2 640.6,309.8 641.7,309.2 C642.9,308.6 644.4,305.6 645.5,305.0 C646.6,304.4 647.3,304.7 648.6,305.3 C649.9,305.9 652.1,306.9 653.2,308.4 C654.4,309.9 654.6,311.4 655.5,314.5 C656.4,317.6 657.2,325.1 658.5,326.8 C659.8,328.5 661.9,326.0 663.1,324.5 C664.3,323.0 664.9,318.4 665.7,317.6 C666.5,316.8 667.0,319.4 667.7,319.9 C668.4,320.4 669.1,321.8 669.7,320.7 C670.3,319.6 670.7,315.9 671.3,313.0 C671.9,310.1 673.0,304.7 673.4,303.0" fill="none" stroke="#111" stroke-width="1.45" stroke-linejoin="round"/>
<path d="M388.3,365.9 C389.4,366.0 391.9,366.6 395.0,366.7 C398.1,366.8 403.5,366.4 406.7,366.7 C409.9,367.0 412.2,367.6 414.2,368.4 C416.1,369.2 416.6,369.8 418.4,371.7 C420.2,373.6 422.7,377.8 425.1,380.0 C427.5,382.2 430.7,384.8 432.6,385.1 C434.6,385.4 435.3,383.4 436.8,381.7 C438.3,380.0 439.9,376.8 441.8,375.0 C443.7,373.2 446.2,372.1 448.4,370.9 C450.6,369.6 452.3,368.1 455.1,367.5 C457.9,366.9 462.7,367.4 465.1,367.5 C467.5,367.6 468.2,368.1 469.3,368.4 C470.4,368.7 471.1,368.6 471.8,369.2 C472.5,369.8 472.8,371.8 473.5,371.7 C474.2,371.6 475.2,369.0 476.0,368.7 C476.8,368.4 477.7,369.8 478.5,369.7 C479.3,369.6 480.2,368.4 481.0,368.0 C481.8,367.6 478.2,367.6 483.0,367.6 C487.8,367.6 500.3,368.0 509.7,368.1 C519.1,368.2 530.4,368.3 539.3,368.4 C548.2,368.4 558.1,368.2 563.1,368.4 C568.1,368.6 567.5,369.1 569.0,369.6 C570.5,370.1 571.0,370.4 572.0,371.4 C573.0,372.4 574.2,374.7 575.0,375.5 C575.8,376.3 576.1,376.2 576.7,376.1 C577.3,376.0 577.8,375.5 578.5,375.0 C579.2,374.5 580.0,373.3 581.1,373.3 C582.2,373.3 583.9,373.9 585.0,374.9 C586.1,375.9 587.1,378.0 588.0,379.5 C588.9,381.0 589.5,383.6 590.3,383.8 C591.1,384.1 591.8,382.4 592.6,381.0 C593.4,379.6 593.8,376.8 594.9,375.6 C596.0,374.4 598.1,373.7 599.5,373.6 C600.9,373.5 602.1,373.7 603.4,374.9 C604.7,376.1 606.1,378.7 607.2,381.0 C608.4,383.3 609.4,384.9 610.3,388.7 C611.2,392.5 612.0,399.9 612.6,404.0 C613.2,408.1 613.3,411.2 613.7,413.5 C614.1,415.8 614.3,417.1 614.8,417.8 C615.3,418.5 616.3,418.6 616.8,417.8 C617.3,417.0 617.4,415.1 617.8,413.0 C618.2,410.9 618.5,407.2 619.3,405.5 C620.1,403.8 621.2,403.5 622.5,402.5 C623.8,401.5 625.8,401.2 627.1,399.4 C628.4,397.6 629.1,394.8 630.2,391.7 C631.4,388.6 632.9,384.7 634.0,381.0 C635.1,377.3 636.1,371.8 637.1,369.5 C638.1,367.2 639.1,367.2 640.1,367.2 C641.1,367.2 642.1,369.5 643.2,369.5 C644.4,369.5 645.5,367.4 647.0,367.2 C648.5,367.0 651.1,367.4 652.4,368.4 C653.7,369.4 654.1,369.7 654.7,373.3 C655.3,376.9 655.5,388.1 655.9,390.2 C656.3,392.2 656.6,388.4 657.0,385.6 C657.4,382.8 657.9,375.9 658.5,373.3 C659.1,370.8 659.9,369.9 660.8,370.3 C661.7,370.7 662.8,374.5 663.9,375.6 C665.0,376.8 666.6,377.6 667.7,377.2 C668.9,376.8 669.8,375.0 670.8,373.3 C671.8,371.6 673.0,368.2 673.4,367.2" fill="none" stroke="#20a020" stroke-width="1.7" stroke-linejoin="round"/>
<path d="M388.0,435.1 C389.0,435.3 391.9,435.8 393.9,436.1 C395.9,436.4 397.6,436.8 399.8,436.9 C402.0,437.0 404.8,436.3 407.3,436.6 C409.8,436.9 413.0,438.1 414.7,438.6 C416.4,439.1 416.4,438.6 417.6,439.8 C418.8,441.0 420.4,443.8 422.1,445.8 C423.8,447.8 426.3,450.3 428.0,451.7 C429.7,453.1 431.1,454.4 432.5,454.4 C433.9,454.4 435.0,453.1 436.2,451.7 C437.4,450.3 438.5,447.5 439.9,445.8 C441.2,444.1 442.6,442.5 444.3,441.3 C446.0,440.1 448.6,439.2 450.3,438.4 C452.0,437.6 451.2,436.9 454.7,436.6 C458.2,436.3 467.9,436.1 471.1,436.6 C474.3,437.1 472.9,439.3 473.7,439.4 C474.5,439.5 475.1,437.4 476.2,437.2 C477.2,437.0 478.9,438.3 480.0,438.1 C481.1,437.9 475.6,436.4 483.0,436.1 C490.4,435.9 510.6,436.4 524.5,436.6 C538.4,436.8 558.4,436.9 566.1,437.2 C573.8,437.5 569.1,437.8 570.5,438.6 C571.9,439.4 573.2,441.3 574.2,442.1 C575.2,442.9 575.6,443.8 576.4,443.5 C577.1,443.2 577.9,441.4 578.7,440.6 C579.5,439.9 580.1,439.5 581.0,439.0 C581.9,438.5 583.2,437.7 584.2,437.6 C585.2,437.5 585.8,437.8 587.3,438.5 C588.8,439.2 591.4,440.8 593.4,441.9 C595.4,443.0 597.8,443.8 599.5,444.9 C601.2,446.0 602.3,447.1 603.4,448.8 C604.5,450.5 605.4,452.6 606.2,455.0 C607.0,457.4 607.5,460.3 608.2,463.0 C608.9,465.7 609.9,468.0 610.6,471.0 C611.3,474.0 611.8,478.0 612.3,481.0 C612.8,484.0 613.0,487.0 613.4,489.0 C613.8,491.0 613.9,492.5 614.6,493.2 C615.3,493.9 616.8,494.1 617.4,493.2 C618.0,492.3 618.1,490.0 618.4,488.0 C618.7,486.0 618.9,483.7 619.4,481.0 C619.9,478.3 620.6,475.0 621.3,472.0 C622.0,469.0 622.6,465.7 623.5,463.0 C624.4,460.3 625.5,458.2 626.5,456.0 C627.5,453.8 628.6,451.1 629.5,449.5 C630.4,447.9 630.7,448.1 631.7,446.5 C632.7,444.9 634.5,441.1 635.5,439.6 C636.5,438.1 637.0,437.3 637.8,437.3 C638.6,437.3 639.3,438.8 640.1,439.6 C640.9,440.4 641.6,442.3 642.4,442.2 C643.2,442.1 643.7,439.8 644.7,438.8 C645.7,437.8 647.2,436.4 648.6,436.0 C650.0,435.6 652.2,435.5 653.2,436.5 C654.2,437.5 654.3,438.7 654.7,441.9 C655.1,445.1 655.4,455.2 655.8,455.7 C656.2,456.2 656.4,446.9 657.0,444.9 C657.6,442.8 658.3,443.1 659.3,443.4 C660.3,443.7 662.0,445.7 663.1,446.5 C664.2,447.3 665.3,447.0 666.2,448.0 C667.1,449.0 667.7,453.1 668.5,452.6 C669.3,452.1 669.9,447.7 670.8,444.9 C671.7,442.1 673.4,437.2 673.9,435.7" fill="none" stroke="#ff1010" stroke-width="1.5" stroke-linejoin="round"/>
<line x1="388.7" y1="293.5" x2="388.7" y2="302.6" stroke="#111" stroke-width="1.6"/>
<line x1="394.4" y1="349.9" x2="425.0" y2="349.9" stroke="#333" stroke-width="1.6"/><text x="428.3" y="352.0" font-size="7.8" fill="#333" stroke="#333" stroke-width="0.15" font-family='"Liberation Serif", serif' textLength="103.0" lengthAdjust="spacingAndGlyphs">CuMn<tspan font-size="5.4" dy="1.7">2</tspan><tspan dy="-1.7">O</tspan><tspan font-size="5.4" dy="1.7">4</tspan><tspan dy="-1.7">GOFe</tspan><tspan font-size="5.4" dy="1.7">3</tspan><tspan dy="-1.7">O</tspan><tspan font-size="5.4" dy="1.7">4</tspan></text>
<line x1="397.9" y1="415.9" x2="429.4" y2="415.9" stroke="#20a020" stroke-width="1.6"/><text x="432.0" y="418.1" font-size="7.8" fill="#20a020" stroke="#20a020" stroke-width="0.15" font-family='"Liberation Serif", serif' textLength="72.0" lengthAdjust="spacingAndGlyphs">CuMn<tspan font-size="5.4" dy="1.7">2</tspan><tspan dy="-1.7">O</tspan><tspan font-size="5.4" dy="1.7">4</tspan><tspan dy="-1.7">GO</tspan></text>
<line x1="393.5" y1="475.5" x2="425.0" y2="475.5" stroke="#ff1010" stroke-width="1.6"/><text x="427.7" y="478.1" font-size="7.8" fill="#ff1010" stroke="#ff1010" stroke-width="0.15" font-family='"Liberation Serif", serif' textLength="52.5" lengthAdjust="spacingAndGlyphs">CuMn<tspan font-size="5.4" dy="1.7">2</tspan><tspan dy="-1.7">O</tspan><tspan font-size="5.4" dy="1.7">4</tspan></text>
<text x="640.1" y="492.6" font-size="11.5" fill="#222" stroke="#222" stroke-width="0.45" font-family='"Liberation Sans", sans-serif' textLength="27.6" lengthAdjust="spacingAndGlyphs">(d)</text>
<text x="474.7" y="519.2" font-size="8.6" font-weight="bold" fill="#333" font-family='"Liberation Serif", serif' textLength="114" lengthAdjust="spacingAndGlyphs">Wavenumber(cm<tspan font-size="5" dy="-3">-1</tspan><tspan dy="3">)</tspan></text>
<text transform="translate(376.2,396) rotate(-90)" font-size="14" text-anchor="middle" fill="#333" stroke="#333" stroke-width="0.3" font-family='"Liberation Sans", sans-serif' textLength="69.5" lengthAdjust="spacingAndGlyphs">% Transmittance (a.u.)</text>
</svg>
</body></html>
